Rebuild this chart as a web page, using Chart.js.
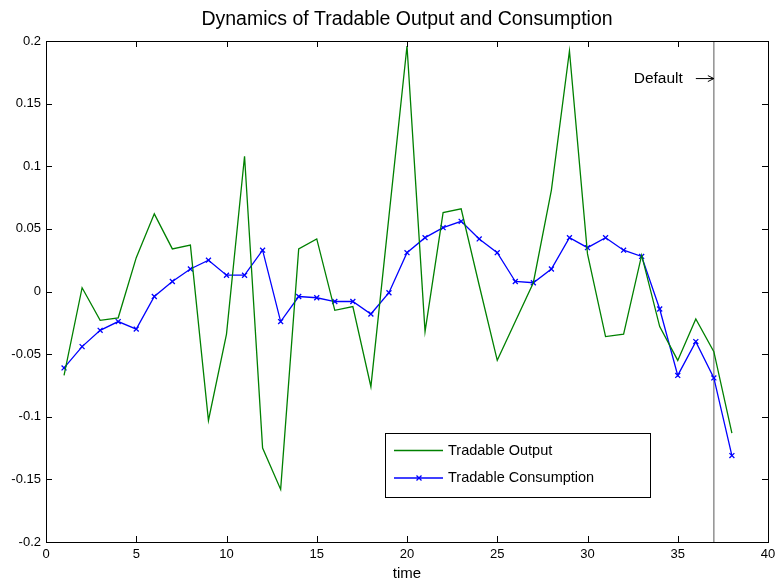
<!DOCTYPE html>
<html>
<head>
<meta charset="utf-8">
<title>Dynamics of Tradable Output and Consumption</title>
<script src="https://cdn.jsdelivr.net/npm/chart.js@4.4.1/dist/chart.umd.min.js"></script>
<style>
    html, body { margin: 0; padding: 0; background: #ffffff; }
    #wrap { width: 777px; height: 579px; position: relative; }
</style>
</head>
<body>
<div id="wrap"><canvas id="dynChart"></canvas></div>
<script>
// Dynamics of tradable output and consumption around a default episode

// Periods (time axis)
const periods = [1, 2, 3, 4, 5, 6, 7, 8, 9, 10, 11, 12, 13, 14, 15, 16, 17, 18, 19,
    20, 21, 22, 23, 24, 25, 26, 27, 28, 29, 30, 31, 32, 33, 34, 35, 36, 37, 38];

// Tradable output (green line)
const tradableOutput = [-0.067, 0.003, -0.023, -0.021, 0.027, 0.062, 0.034, 0.037, -0.103, -0.034,
    0.108, -0.125, -0.158, 0.034, 0.042, -0.015, -0.012, -0.076, 0.060, 0.196,
    -0.032, 0.063, 0.066, 0.005, -0.055, -0.024, 0.007, 0.081, 0.192, 0.030,
    -0.036, -0.034, 0.029, -0.028, -0.055, -0.022, -0.048, -0.113];

// Tradable consumption (blue line with x markers)
const tradableConsumption = [-0.061, -0.044, -0.031, -0.024, -0.030, -0.004, 0.008, 0.018, 0.025, 0.013,
    0.013, 0.033, -0.024, -0.004, -0.005, -0.008, -0.008, -0.018, -0.001, 0.031,
    0.043, 0.051, 0.056, 0.042, 0.031, 0.008, 0.007, 0.018, 0.043, 0.035,
    0.043, 0.033, 0.028, -0.014, -0.067, -0.040, -0.069, -0.131];

// Axis ticks
const xTicks = [0, 5, 10, 15, 20, 25, 30, 35, 40];
const yTicks = [-0.2, -0.15, -0.1, -0.05, 0, 0.05, 0.1, 0.15, 0.2];
const yTickLabels = ['-0.2', '-0.15', '-0.1', '-0.05', '0', '0.05', '0.1', '0.15', '0.2'];

// Default marker
const defaultPeriod = 37;
const defaultLabelY = 0.17;
const defaultLabel = 'Default';

const chartTitle = 'Dynamics of Tradable Output and Consumption';
const fontFamily = "'Liberation Sans', Arial, Helvetica, sans-serif";

const colors = {
    output: '#008000',
    consumption: '#0000ff',
    frame: '#000000',
    defaultLine: '#808080'
};

// Draws the MATLAB style box, inward ticks, title, default line and the legend
const matlabPlugin = {
    id: 'matlabPlugin',
    beforeDatasetsDraw(chart) {
        const ctx = chart.ctx;
        const area = chart.chartArea;
        const x = chart.scales.x.getPixelForValue(defaultPeriod);
        ctx.save();
        ctx.strokeStyle = colors.defaultLine;
        ctx.lineWidth = 1.3;
        ctx.beginPath();
        ctx.moveTo(x, area.top);
        ctx.lineTo(x, area.bottom);
        ctx.stroke();
        ctx.restore();
    },
    afterDatasetsDraw(chart) {
        const ctx = chart.ctx;
        const area = chart.chartArea;
        const xs = chart.scales.x;
        const ys = chart.scales.y;
        const tick = 6;

        ctx.save();
        ctx.strokeStyle = colors.frame;
        ctx.lineWidth = 1;

        // title, centred over the axes
        ctx.fillStyle = '#000000';
        ctx.font = '19.5px ' + fontFamily;
        ctx.textAlign = 'center';
        ctx.textBaseline = 'middle';
        ctx.fillText(chartTitle, (area.left + area.right) / 2, 20);

        // box
        ctx.strokeRect(Math.round(area.left) + 0.5, Math.round(area.top) + 0.5,
            Math.round(area.right - area.left), Math.round(area.bottom - area.top));

        // inward ticks on all four sides
        ctx.beginPath();
        xTicks.forEach(v => {
            const px = Math.round(xs.getPixelForValue(v)) + 0.5;
            ctx.moveTo(px, area.bottom);
            ctx.lineTo(px, area.bottom - tick);
            ctx.moveTo(px, area.top);
            ctx.lineTo(px, area.top + tick);
        });
        yTicks.forEach(v => {
            const py = Math.round(ys.getPixelForValue(v)) + 0.5;
            ctx.moveTo(area.left, py);
            ctx.lineTo(area.left + tick, py);
            ctx.moveTo(area.right, py);
            ctx.lineTo(area.right - tick, py);
        });
        ctx.stroke();

        // "Default ->" annotation
        const dx = xs.getPixelForValue(defaultPeriod);
        const dy = ys.getPixelForValue(defaultLabelY);
        ctx.font = '15.5px ' + fontFamily;
        ctx.textAlign = 'right';
        ctx.fillText(defaultLabel, dx - 31, dy);
        ctx.beginPath();
        ctx.moveTo(dx - 18, dy);
        ctx.lineTo(dx, dy);
        ctx.moveTo(dx - 6, dy - 3);
        ctx.lineTo(dx, dy);
        ctx.lineTo(dx - 6, dy + 3);
        ctx.stroke();

        // legend box
        const lx = area.left + 339;
        const ly = area.top + 392;
        const lw = 265;
        const lh = 64;
        ctx.fillStyle = '#ffffff';
        ctx.fillRect(lx, ly, lw, lh);
        ctx.strokeRect(Math.round(lx) + 0.5, Math.round(ly) + 0.5, lw, lh);

        ctx.font = '14.5px ' + fontFamily;
        chart.data.datasets.forEach((ds, i) => {
            const rowY = ly + 17.5 + i * 27.5;
            ctx.strokeStyle = ds.borderColor;
            ctx.lineWidth = 1.3;
            ctx.beginPath();
            ctx.moveTo(lx + 9, rowY);
            ctx.lineTo(lx + 58, rowY);
            ctx.stroke();
            if (ds.pointRadius > 0) {
                const mx = lx + 34;
                const r = 2.5;
                ctx.beginPath();
                ctx.moveTo(mx - r, rowY - r);
                ctx.lineTo(mx + r, rowY + r);
                ctx.moveTo(mx - r, rowY + r);
                ctx.lineTo(mx + r, rowY - r);
                ctx.stroke();
            }
            ctx.fillStyle = '#000000';
            ctx.textAlign = 'left';
            ctx.fillText(ds.label, lx + 63, rowY);
        });

        ctx.restore();
    }
};

function initChart() {
    const canvas = document.getElementById('dynChart');

    new Chart(canvas, {
        type: 'line',
        data: {
            datasets: [
                {
                    label: 'Tradable Output',
                    data: periods.map((p, i) => ({ x: p, y: tradableOutput[i] })),
                    borderColor: colors.output,
                    backgroundColor: colors.output,
                    borderWidth: 1.3,
                    pointRadius: 0,
                    tension: 0,
                    fill: false
                },
                {
                    label: 'Tradable Consumption',
                    data: periods.map((p, i) => ({ x: p, y: tradableConsumption[i] })),
                    borderColor: colors.consumption,
                    backgroundColor: colors.consumption,
                    borderWidth: 1.3,
                    pointStyle: 'crossRot',
                    pointRadius: 3.5,
                    pointBorderWidth: 1.3,
                    pointBorderColor: colors.consumption,
                    tension: 0,
                    fill: false
                }
            ]
        },
        options: {
            responsive: true,
            maintainAspectRatio: false,
            animation: false,
            layout: {
                padding: { left: 0, right: 9, top: 41, bottom: 0 }
            },
            plugins: {
                legend: { display: false },
                tooltip: { enabled: false },
                title: { display: false }
            },
            scales: {
                x: {
                    type: 'linear',
                    min: 0,
                    max: 40,
                    afterBuildTicks: scale => {
                        scale.ticks = xTicks.map(v => ({ value: v }));
                    },
                    afterFit: scale => {
                        scale.height = 37;
                        scale.paddingLeft = 0;
                        scale.paddingRight = 0;
                    },
                    grid: { display: false, drawTicks: false },
                    border: { display: false },
                    ticks: {
                        color: '#000000',
                        padding: 5,
                        maxRotation: 0,
                        font: { family: fontFamily, size: 13 }
                    },
                    title: {
                        display: true,
                        text: 'time',
                        color: '#000000',
                        font: { family: fontFamily, size: 15 },
                        padding: { top: 0, bottom: -4 }
                    }
                },
                y: {
                    min: -0.2,
                    max: 0.2,
                    afterBuildTicks: scale => {
                        scale.ticks = yTicks.map(v => ({ value: v }));
                    },
                    afterFit: scale => {
                        scale.width = 46;
                    },
                    grid: { display: false, drawTicks: false },
                    border: { display: false },
                    ticks: {
                        color: '#000000',
                        padding: 5,
                        font: { family: fontFamily, size: 13 },
                        callback: function(value) {
                            const idx = yTicks.findIndex(t => Math.abs(t - value) < 1e-9);
                            return idx >= 0 ? yTickLabels[idx] : '';
                        }
                    }
                }
            }
        },
        plugins: [matlabPlugin]
    });
}

initChart();
</script>
</body>
</html>
